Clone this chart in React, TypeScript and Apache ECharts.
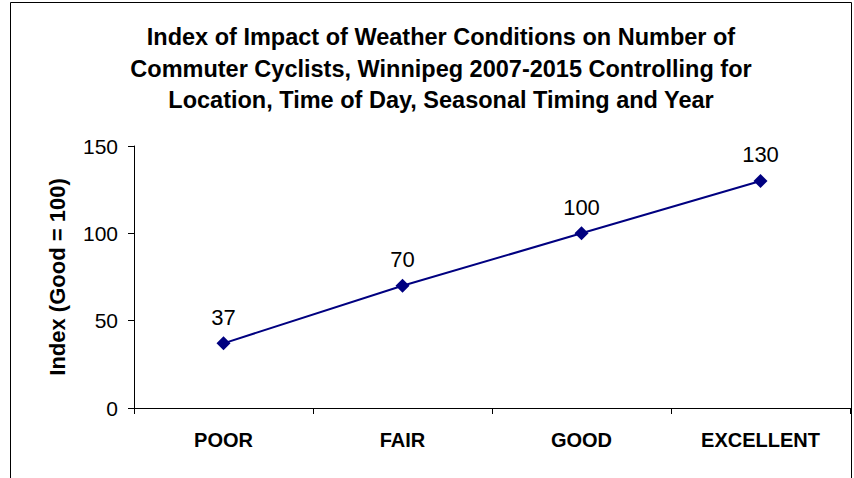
import React, { useEffect, useRef } from "react";
import * as echarts from "echarts";

const categories = ["POOR", "FAIR", "GOOD", "EXCELLENT"];
const values = [37, 70, 100, 130];
const titleLines = [
  "Index of Impact of Weather Conditions on Number of",
  "Commuter Cyclists, Winnipeg 2007-2015 Controlling for",
  "Location, Time of Day, Seasonal Timing and Year",
];
const yAxisName = "Index (Good = 100)";

export default function App() {
  const ref = useRef<HTMLDivElement>(null);
  useEffect(() => {
    if (!ref.current) return;
    const chart = echarts.init(ref.current, null, { renderer: "svg" });
    const font = "'Liberation Sans', Arial, sans-serif";
    const titleTexts = titleLines.map((t, i) => ({
      type: "text",
      x: 441,
      y: 37 + i * 31.5,
      style: {
        text: t,
        font: `bold 23.5px ${font}`,
        fill: "#000000",
        align: "center",
        verticalAlign: "middle",
      },
    }));
    chart.setOption({
      animation: false,
      backgroundColor: "#ffffff",
      graphic: [
        {
          type: "rect",
          shape: { x: 10.5, y: 2.5, width: 841, height: 500 },
          style: { fill: "none", stroke: "#000000", lineWidth: 1 },
          silent: true,
        },
        ...titleTexts,
      ],
      grid: { left: 134, right: 4, top: 146, bottom: 70, containLabel: false },
      xAxis: {
        type: "category",
        data: categories,
        boundaryGap: true,
        axisLine: { lineStyle: { color: "#000000", width: 1 } },
        axisTick: { show: true, length: 6, lineStyle: { color: "#000000" } },
        axisLabel: {
          color: "#000000",
          fontFamily: font,
          fontWeight: "bold",
          fontSize: 20,
          margin: 22,
        },
        splitLine: { show: false },
      },
      yAxis: {
        type: "value",
        min: 0,
        max: 150,
        interval: 50,
        name: yAxisName,
        nameLocation: "middle",
        nameGap: 66,
        nameRotate: 90,
        nameTextStyle: {
          color: "#000000",
          fontFamily: font,
          fontWeight: "bold",
          fontSize: 22,
        },
        axisLine: { show: true, lineStyle: { color: "#000000", width: 1 } },
        axisTick: { show: true, length: 6, inside: false, lineStyle: { color: "#000000" } },
        axisLabel: {
          color: "#000000",
          fontFamily: font,
          fontSize: 21,
          margin: 16,
        },
        splitLine: { show: false },
      },
      series: [
        {
          type: "line",
          data: values,
          symbol: "diamond",
          symbolSize: 14,
          itemStyle: { color: "#000080" },
          lineStyle: { color: "#000080", width: 2 },
          label: {
            show: true,
            position: "top",
            distance: 8,
            color: "#000000",
            fontFamily: font,
            fontSize: 22,
          },
        },
      ],
    });
    return () => chart.dispose();
  }, []);
  return <div ref={ref} style={{ width: 854, height: 478, position: "fixed", left: 0, top: 0 }} />;
}
